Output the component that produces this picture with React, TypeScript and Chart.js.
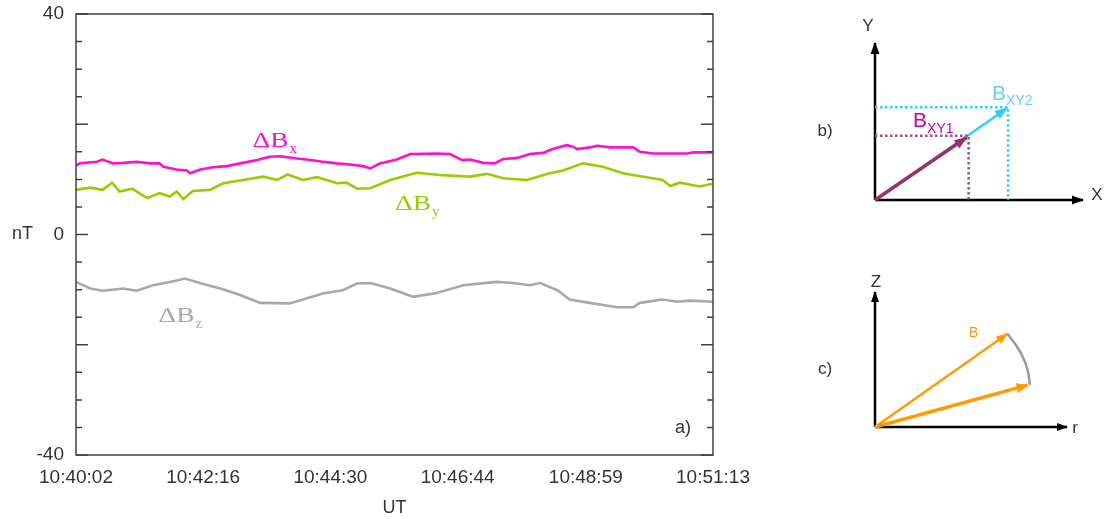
import React, { useEffect, useRef } from 'react';
import { Chart, registerables } from 'chart.js';

Chart.register(...registerables);

// ---------- Main panel a) data ----------
const xTickSeconds = [0, 134, 268, 402, 537, 671];
const xTickLabels = ['10:40:02', '10:42:16', '10:44:30', '10:46:44', '10:48:59', '10:51:13'];
const yTickValues = [-40, -35, -30, -25, -20, -15, -10, -5, 0, 5, 10, 15, 20, 25, 30, 35, 40];
const yLabelValues = [-40, 0, 40];

const bxTimes = [0, 4, 22, 28, 39, 50, 64, 78, 88, 92, 106, 117, 120, 131, 144, 159, 173, 191, 204, 215, 233, 247, 260, 275, 289, 302, 310, 320, 338, 352, 380, 394, 407, 415, 429, 441, 450, 465, 478, 492, 502, 517, 524, 528, 541, 549, 563, 587, 594, 608, 644, 650, 671];
const bxValues = [12.5, 12.9, 13.2, 13.6, 12.9, 13.0, 13.2, 12.9, 12.9, 12.3, 11.8, 11.6, 11.1, 11.8, 12.2, 12.4, 12.9, 13.5, 14.1, 14.2, 13.8, 13.5, 13.2, 12.9, 12.7, 12.4, 12.0, 12.9, 13.6, 14.6, 14.7, 14.6, 13.5, 13.6, 13.0, 12.9, 13.7, 13.9, 14.6, 14.8, 15.5, 16.2, 15.9, 15.5, 15.8, 16.1, 15.8, 15.8, 15.0, 14.7, 14.7, 14.9, 14.9];

const byTimes = [0, 15, 28, 38, 46, 59, 75, 88, 99, 106, 113, 123, 141, 155, 176, 197, 212, 223, 239, 254, 275, 285, 296, 310, 331, 359, 383, 415, 433, 450, 475, 499, 513, 534, 555, 576, 601, 618, 626, 636, 657, 671];
const byValues = [8.1, 8.5, 8.1, 9.4, 7.8, 8.3, 6.6, 7.5, 6.9, 7.8, 6.4, 7.9, 8.1, 9.3, 9.9, 10.5, 9.9, 10.9, 9.9, 10.4, 9.3, 9.4, 8.3, 8.4, 9.9, 11.2, 10.8, 10.5, 11.0, 10.2, 9.9, 11.1, 11.6, 12.9, 12.3, 11.1, 10.4, 9.9, 8.8, 9.4, 8.7, 9.2];

const bzTimes = [0, 15, 28, 50, 64, 81, 99, 115, 134, 152, 170, 194, 225, 239, 260, 281, 296, 310, 331, 355, 380, 408, 443, 460, 478, 489, 507, 520, 541, 570, 587, 594, 618, 633, 647, 671];
const bzValues = [-8.6, -9.8, -10.2, -9.8, -10.2, -9.2, -8.6, -8.0, -9.0, -9.8, -10.8, -12.4, -12.5, -11.8, -10.7, -10.1, -8.9, -8.8, -9.8, -11.3, -10.6, -9.2, -8.6, -8.8, -9.2, -8.8, -10.1, -11.8, -12.4, -13.2, -13.2, -12.4, -11.8, -12.2, -12.0, -12.2];

const seriesNames = ['x', 'y', 'z'];
const seriesColors = ['#FF10CC', '#99CC00', '#A8A8A8'];
// label anchor (time s, nT) for ΔB labels
const seriesLabelTimes = [186, 336, 87];
const seriesLabelValues = [15.9, 4.5, -15.8];

// ---------- Schematic b) (arbitrary units) ----------
const bAxisLen = 10;
const bXY1 = [4.5, 4.1];
const bXY2 = [6.4, 5.9];

// ---------- Schematic c) (arbitrary units) ----------
const cAxisLen = 10;
const cB1 = [6.9, 6.9];
const cB2 = [7.95, 3.1];
const cArcX = [6.9, 7.34, 7.7, 7.95, 8.07];
const cArcY = [6.9, 6.07, 5.19, 4.22, 3.11];

const SANS = "'Liberation Sans', Arial, sans-serif";
const SERIF = "'Liberation Serif', 'Times New Roman', serif";
const TEXT = '#333333';

const pts = (xs: number[], ys: number[]) => xs.map((x, i) => ({ x, y: ys[i] }));

const arrowPlugin = {
  id: 'arrowHeads',
  afterDatasetsDraw(chart: any) {
    const ctx = chart.ctx;
    chart.data.datasets.forEach((ds: any, i: number) => {
      if (!ds.arrow) return;
      const meta = chart.getDatasetMeta(i);
      const d = meta.data;
      const n = d.length;
      if (n < 2) return;
      const p1 = d[n - 2], p2 = d[n - 1];
      const ang = Math.atan2(p2.y - p1.y, p2.x - p1.x);
      const L = ds.arrowLength ?? 11;
      const W = ds.arrowWidth ?? 4.5;
      ctx.save();
      ctx.fillStyle = ds.borderColor;
      ctx.translate(p2.x, p2.y);
      ctx.rotate(ang);
      ctx.beginPath();
      ctx.moveTo(1, 0);
      ctx.lineTo(-L, -W);
      ctx.lineTo(-L, W);
      ctx.closePath();
      ctx.fill();
      ctx.restore();
    });
  },
};

const textPlugin = {
  id: 'textLabels',
  afterDraw(chart: any, _args: any, opts: any) {
    const items = opts.items || [];
    const ctx = chart.ctx;
    const { x, y } = chart.scales;
    items.forEach((it: any) => {
      const px = x.getPixelForValue(it.x);
      const py = y.getPixelForValue(it.y);
      ctx.save();
      ctx.fillStyle = it.color || TEXT;
      ctx.font = it.font;
      ctx.textAlign = it.align || 'left';
      ctx.textBaseline = it.baseline || 'alphabetic';
      if (it.stretch) {
        ctx.translate(px, py);
        ctx.scale(it.stretch, 1);
        ctx.fillText(it.text, 0, 0);
        const w = ctx.measureText(it.text).width * it.stretch;
        ctx.setTransform(1, 0, 0, 1, 0, 0);
        if (it.sub) {
          ctx.font = it.subFont;
          ctx.textAlign = 'left';
          ctx.fillText(it.sub, px + w + 1, py + it.subDy);
        }
      } else {
        ctx.fillText(it.text, px, py);
        if (it.sub) {
          const w = ctx.measureText(it.text).width;
          ctx.font = it.subFont;
          ctx.textAlign = 'left';
          ctx.fillText(it.sub, px + w, py + it.subDy);
        }
      }
      ctx.restore();
    });
  },
};

const framePlugin = {
  id: 'frame',
  afterDatasetsDraw(chart: any) {
    const { ctx, chartArea, scales } = chart;
    const { left, right, top, bottom } = chartArea;
    const y = scales.y;
    ctx.save();
    ctx.strokeStyle = '#404040';
    ctx.lineWidth = 1.5;
    ctx.strokeRect(left, top, right - left, bottom - top);
    yTickValues.forEach((v) => {
      const py = y.getPixelForValue(v);
      const len = v % 20 === 0 ? 12 : 6;
      ctx.beginPath();
      ctx.moveTo(left, py);
      ctx.lineTo(left + len, py);
      ctx.moveTo(right, py);
      ctx.lineTo(right - len, py);
      ctx.stroke();
    });
    // nT and a) labels
    ctx.fillStyle = TEXT;
    ctx.font = `18px ${SANS}`;
    ctx.textBaseline = 'middle';
    ctx.textAlign = 'left';
    ctx.fillText('nT', 12, y.getPixelForValue(0));
    ctx.fillText('a)', right - 38, bottom - 27);
    ctx.restore();
  },
};

function MainChart() {
  const ref = useRef<HTMLCanvasElement>(null);
  useEffect(() => {
    const series = [
      { t: bxTimes, v: bxValues },
      { t: byTimes, v: byValues },
      { t: bzTimes, v: bzValues },
    ];
    const chart = new Chart(ref.current!, {
      type: 'line',
      data: {
        datasets: series.map((s, i) => ({
          label: 'ΔB' + seriesNames[i],
          data: pts(s.t, s.v),
          borderColor: seriesColors[i],
          backgroundColor: seriesColors[i],
          borderWidth: 2.6,
          pointRadius: 0,
          tension: 0,
          fill: false,
        })),
      },
      options: {
        animation: false,
        responsive: false,
        devicePixelRatio: 1,
        events: [],
        layout: { padding: { left: 0, top: 14, right: 391, bottom: 0 } },
        plugins: {
          legend: { display: false },
          tooltip: { enabled: false },
          textLabels: {
            items: seriesNames.map((n, i) => ({
              text: 'ΔB',
              sub: n,
              x: seriesLabelTimes[i],
              y: seriesLabelValues[i],
              color: seriesColors[i],
              font: `22px ${SERIF}`,
              subFont: `15px ${SERIF}`,
              subDy: 6,
              stretch: 1.25,
            })),
          },
        } as any,
        scales: {
          x: {
            type: 'linear',
            min: 0,
            max: 671,
            grid: { display: false, drawTicks: false },
            border: { display: false },
            afterBuildTicks: (s: any) => {
              s.ticks = xTickSeconds.map((v) => ({ value: v }));
            },
            afterFit: (s: any) => {
              s.height = 64;
              s.paddingLeft = 0;
              s.paddingRight = 0;
            },
            ticks: {
              autoSkip: false,
              maxRotation: 0,
              padding: 11,
              color: TEXT,
              font: { family: SANS, size: 19 },
              callback: (_v: any, i: number) => xTickLabels[i],
            },
            title: {
              display: true,
              text: 'UT',
              color: TEXT,
              font: { family: SANS, size: 18 },
              padding: { top: 0, bottom: 0 },
            },
          },
          y: {
            type: 'linear',
            min: -40,
            max: 40,
            grid: { display: false, drawTicks: false },
            border: { display: false },
            afterBuildTicks: (s: any) => {
              s.ticks = yLabelValues.map((v) => ({ value: v }));
            },
            afterFit: (s: any) => {
              s.width = 76;
              s.paddingTop = 0;
              s.paddingBottom = 0;
            },
            ticks: {
              autoSkip: false,
              padding: 12,
              color: TEXT,
              font: { family: SANS, size: 19 },
              callback: (v: any) => String(v),
            },
          },
        },
      },
      plugins: [framePlugin, textPlugin],
    });
    return () => chart.destroy();
  }, []);
  return <canvas ref={ref} width={1104} height={519} style={{ position: 'absolute', left: 0, top: 0 }} />;
}

const seg = (color: string, data: any[], extra: any = {}) => ({
  data,
  borderColor: color,
  backgroundColor: color,
  borderWidth: 2.5,
  pointRadius: 0,
  showLine: true,
  tension: 0,
  clip: false,
  ...extra,
});

function SchematicChart(props: { left: number; top: number; width: number; height: number; padding: any; datasets: any[]; labels: any[] }) {
  const ref = useRef<HTMLCanvasElement>(null);
  useEffect(() => {
    const chart = new Chart(ref.current!, {
      type: 'scatter',
      data: { datasets: props.datasets },
      options: {
        animation: false,
        responsive: false,
        devicePixelRatio: 1,
        events: [],
        layout: { padding: props.padding },
        plugins: {
          legend: { display: false },
          tooltip: { enabled: false },
          textLabels: { items: props.labels },
        } as any,
        scales: {
          x: { type: 'linear', min: 0, max: 10, display: false },
          y: { type: 'linear', min: 0, max: 10, display: false },
        },
      },
      plugins: [arrowPlugin, textPlugin],
    });
    return () => chart.destroy();
  }, []);
  return (
    <canvas
      ref={ref}
      width={props.width}
      height={props.height}
      style={{ position: 'absolute', left: props.left, top: props.top }}
    />
  );
}

export default function App() {
  const purple = '#993366';
  const purpleDot = '#A4507C';
  const cyan = '#33CCFF';
  const orange = '#FF9A00';
  const bDatasets = [
    seg(cyan, [{ x: 0, y: bXY2[1] }, { x: bXY2[0], y: bXY2[1] }, { x: bXY2[0], y: 0 }], { borderDash: [2.5, 2.5], borderWidth: 2.5 }),
    seg(purpleDot, [{ x: 0, y: bXY1[1] }, { x: bXY1[0], y: bXY1[1] }, { x: bXY1[0], y: 0 }], { borderDash: [2.5, 2.5], borderWidth: 2.5 }),
    seg(purple, [{ x: 0, y: 0 }, { x: bXY1[0] - 0.1, y: bXY1[1] - 0.12 }], { borderWidth: 3.5, arrow: true, arrowLength: 12, arrowWidth: 5 }),
    seg(cyan, [{ x: 0, y: 0 }, { x: bXY2[0] - 0.05, y: bXY2[1] - 0.05 }], { borderWidth: 2.5, arrow: true, arrowLength: 12, arrowWidth: 5 }),
    seg('#000000', [{ x: 0, y: 0 }, { x: bAxisLen, y: 0 }], { borderWidth: 2.5, arrow: true, arrowLength: 11, arrowWidth: 4.5 }),
    seg('#000000', [{ x: 0, y: 0 }, { x: 0, y: bAxisLen }], { borderWidth: 2.5, arrow: true, arrowLength: 11, arrowWidth: 4.5 }),
  ];
  const bLabels = [
    { text: 'Y', x: -0.34, y: 11.05, font: `17px ${SANS}`, align: 'center', baseline: 'middle' },
    { text: 'X', x: 10.67, y: 0.32, font: `17px ${SANS}`, align: 'center', baseline: 'middle' },
    { text: 'b)', x: -2.4, y: 4.4, font: `17px ${SANS}`, align: 'center', baseline: 'middle' },
    { text: 'B', sub: 'XY1', x: 1.83, y: 4.65, color: '#CC0099', font: `21px ${SANS}`, subFont: `14px ${SANS}`, subDy: 6 },
    { text: 'B', sub: 'XY2', x: 5.63, y: 6.37, color: '#66CCFF', font: `21px ${SANS}`, subFont: `14px ${SANS}`, subDy: 5 },
  ];
  const cDatasets = [
    seg('#999999', pts(cArcX, cArcY), { borderWidth: 2.5, tension: 0.4 }),
    seg(orange, [{ x: 0, y: 0 }, { x: cB1[0], y: cB1[1] }], { borderWidth: 2.5, arrow: true, arrowLength: 11, arrowWidth: 4.5 }),
    seg(orange, [{ x: 0, y: 0 }, { x: cB2[0], y: cB2[1] }], { borderWidth: 3.5, arrow: true, arrowLength: 11, arrowWidth: 5 }),
    seg('#000000', [{ x: 0, y: 0 }, { x: cAxisLen, y: 0 }], { borderWidth: 2.5, arrow: true, arrowLength: 10, arrowWidth: 4 }),
    seg('#000000', [{ x: 0, y: 0 }, { x: 0, y: cAxisLen }], { borderWidth: 2.5, arrow: true, arrowLength: 10, arrowWidth: 4 }),
  ];
  const cLabels = [
    { text: 'Z', x: 0.05, y: 10.74, font: `17px ${SANS}`, align: 'center', baseline: 'middle' },
    { text: 'r', x: 10.42, y: -0.07, font: `17px ${SANS}`, align: 'center', baseline: 'middle' },
    { text: 'c)', x: -2.6, y: 4.3, font: `17px ${SANS}`, align: 'center', baseline: 'middle' },
    { text: 'B', x: 4.9, y: 6.67, color: orange, font: `14px ${SANS}` },
  ];
  return (
    <div style={{ position: 'absolute', left: 0, top: 0, width: 1104, height: 519, background: '#ffffff' }}>
      <MainChart />
      <SchematicChart
        left={800}
        top={0}
        width={304}
        height={230}
        padding={{ left: 75, right: 21, top: 43, bottom: 30 }}
        datasets={bDatasets}
        labels={bLabels}
      />
      <SchematicChart
        left={800}
        top={260}
        width={304}
        height={200}
        padding={{ left: 75, right: 37, top: 32, bottom: 33 }}
        datasets={cDatasets}
        labels={cLabels}
      />
    </div>
  );
}
